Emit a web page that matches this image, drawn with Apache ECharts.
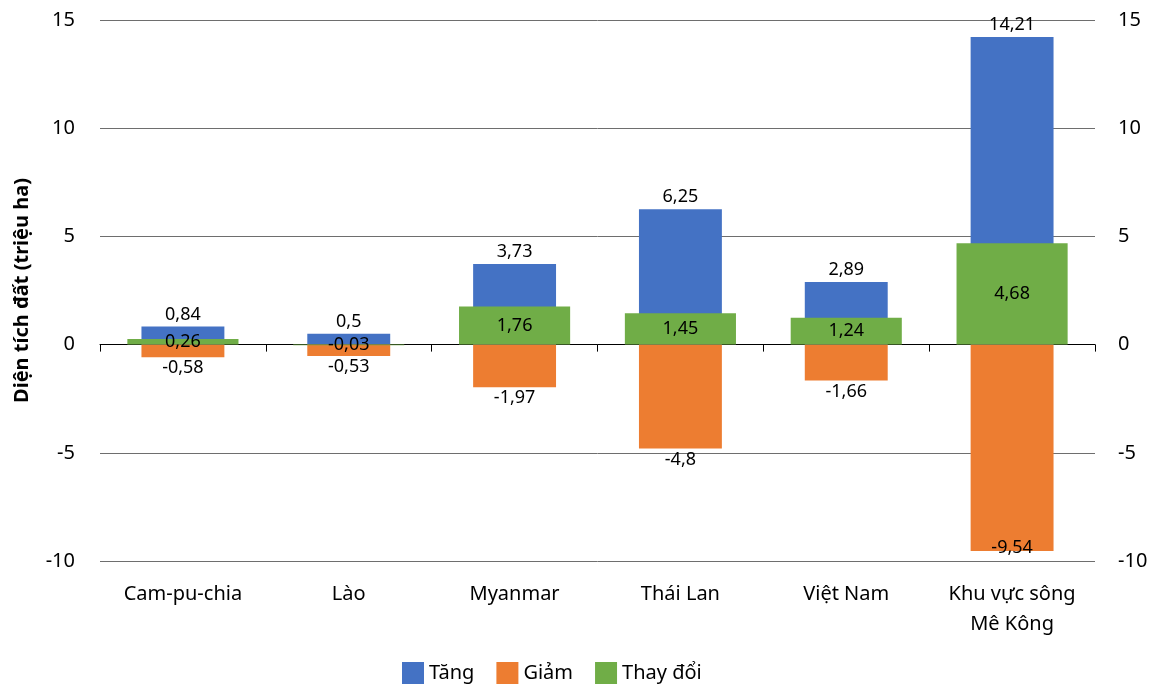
<!DOCTYPE html>
<html>
<head>
<meta charset="utf-8">
<script src="https://cdn.jsdelivr.net/npm/echarts@6/dist/echarts.min.js"></script>
<style>
html, body { margin: 0; padding: 0; background: #fff; }
#chart { width: 1155px; height: 689px; }
</style>
</head>
<body>
<div id="chart"></div>
<script>
var categories = ['Cam-pu-chia', 'Lào', 'Myanmar', 'Thái Lan', 'Việt Nam', 'Khu vực sông\nMê Kông'];
var tang = [0.84, 0.5, 3.73, 6.25, 2.89, 14.21];
var giam = [-0.58, -0.53, -1.97, -4.8, -1.66, -9.54];
var thayDoi = [0.26, -0.03, 1.76, 1.45, 1.24, 4.68];
var yTicks = [-10, -5, 0, 5, 10, 15];

var FONT = '"Noto Sans", sans-serif';

function fmt(p) {
	return String(p.value).replace('.', ',');
}

var chart = echarts.init(document.getElementById('chart'));

var option = {
	animation: false,
	textStyle: { fontFamily: FONT },
	legend: {
		bottom: 0,
		left: 397,
		itemWidth: 22,
		itemHeight: 22,
		itemGap: 22,
		icon: 'rect',
		textStyle: { fontSize: 20, color: '#000', fontFamily: FONT },
		data: ['Tăng', 'Giảm', 'Thay đổi']
	},
	grid: { left: 100, right: 60, top: 20, bottom: 128, outerBoundsMode: 'none' },
	xAxis: [
		{
			type: 'category',
			data: categories,
			position: 'bottom',
			axisLine: { show: false, onZero: false },
			axisTick: { show: false },
			axisLabel: { fontSize: 20, color: '#000', margin: 18, lineHeight: 30, fontFamily: FONT }
		},
		{
			type: 'category',
			data: categories,
			position: 'bottom',
			axisLine: { show: true, onZero: true, lineStyle: { color: '#000', width: 1 } },
			axisTick: { show: true, alignWithLabel: false, length: 7, lineStyle: { color: '#000' } },
			axisLabel: { show: false }
		}
	],
	yAxis: [
		{
			type: 'value',
			min: yTicks[0],
			max: yTicks[yTicks.length - 1],
			interval: 5,
			name: 'Diện tích đất (triệu ha)',
			nameLocation: 'middle',
			nameGap: 68,
			nameTextStyle: { fontSize: 20, fontWeight: 'bold', color: '#000', fontFamily: FONT },
			axisLine: { show: false },
			axisTick: { show: false },
			axisLabel: { fontSize: 20, color: '#000', margin: 25, fontFamily: FONT },
			splitLine: { lineStyle: { color: '#6e6e6e', width: 1 } }
		},
		{
			type: 'value',
			min: yTicks[0],
			max: yTicks[yTicks.length - 1],
			interval: 5,
			position: 'right',
			axisLine: { show: false },
			axisTick: { show: false },
			axisLabel: { fontSize: 20, color: '#000', margin: 23, fontFamily: FONT },
			splitLine: { show: false }
		}
	],
	series: [
		{
			name: 'Tăng',
			type: 'bar',
			stack: 'tg',
			xAxisIndex: 0,
			barWidth: '50%',
			data: tang,
			itemStyle: { color: '#4472C4' },
			label: { show: true, position: 'top', distance: 3, fontSize: 18, color: '#000', formatter: fmt }
		},
		{
			name: 'Giảm',
			type: 'bar',
			stack: 'tg',
			xAxisIndex: 0,
			barWidth: '50%',
			data: giam.map(function (v, i) {
				// the last label overlaps the bar's lower edge in the source
				return i === giam.length - 1 ? { value: v, label: { position: 'insideBottom', distance: 0, offset: [0, 6] } } : v;
			}),
			itemStyle: { color: '#ED7D31' },
			label: { show: true, position: 'bottom', distance: 2, fontSize: 18, color: '#000', formatter: fmt }
		},
		{
			name: 'Thay đổi',
			type: 'bar',
			xAxisIndex: 1,
			barWidth: '67%',
			data: thayDoi,
			itemStyle: { color: '#70AD47' },
			label: { show: true, position: 'inside', fontSize: 18, color: '#000', formatter: fmt }
		}
	]
};

chart.setOption(option);
</script>
</body>
</html>
